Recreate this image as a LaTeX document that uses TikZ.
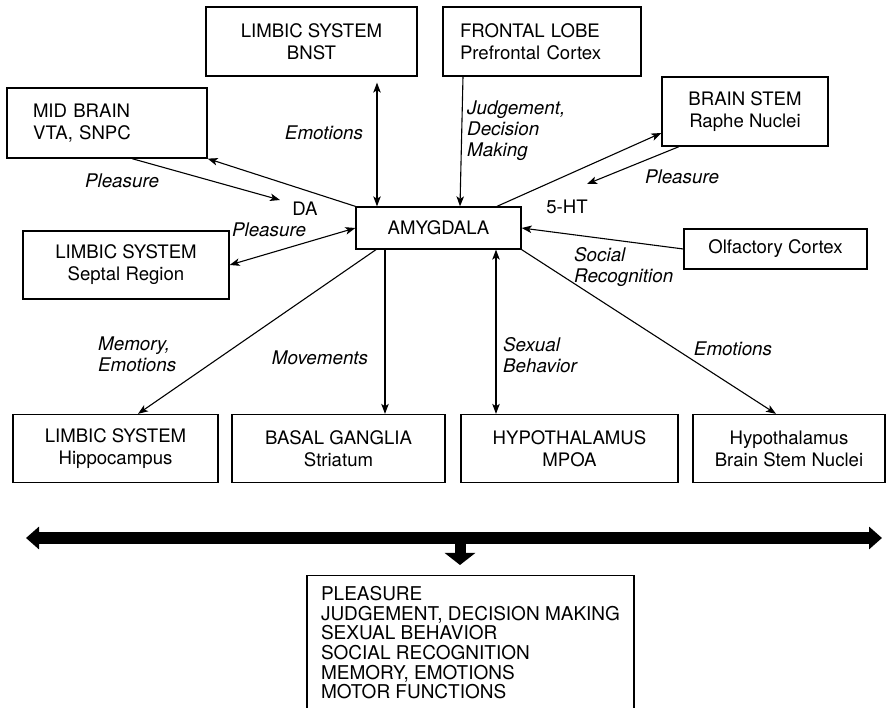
\documentclass[tikz,border=0pt]{standalone}
\usepackage{fontspec}
\setmainfont{TeX Gyre Heros}
\usetikzlibrary{arrows.meta}

\begin{document}
\begin{tikzpicture}[x=1pt,y=-1pt,
  >={Stealth[length=10pt,width=7.5pt,inset=2.5pt]},
  every node/.style={font=\fontsize{18.6}{22}\selectfont},
  box/.style={draw,line width=1.3pt,align=center,inner sep=0pt},
  lbl/.style={font=\fontsize{18.8}{21}\selectfont\itshape,inner sep=0pt,align=left},
  link/.style={line width=1.1pt}]
\useasboundingbox (0,0) rectangle (887,708);

% areas around the amygdala
\node[box,minimum width=211pt,minimum height=69pt] (bnst) at (311.5,41.5) {LIMBIC SYSTEM\\BNST};
\node[box,minimum height=69pt,align=left,text width=164pt,inner xsep=17pt] (front) at (542,41.5) {FRONTAL LOBE\\Prefrontal Cortex};
\node[box,minimum height=70pt,align=left,text width=148pt,inner xsep=26pt] (mid) at (107,123) {MID BRAIN\\VTA, SNPC};
\node[box,minimum width=166pt,minimum height=69pt] (stem) at (745,111.5) {BRAIN STEM\\Raphe Nuclei};
\node[box,minimum width=165pt,minimum height=42pt] (amy) at (438.5,228) {AMYGDALA};
\node[box,minimum width=206pt,minimum height=68pt] (sep) at (126,265) {LIMBIC SYSTEM\\Septal Region};
\node[box,minimum width=183pt,minimum height=40pt] (olf) at (775.5,249) {Olfactory Cortex};

% lower row
\node[box,minimum width=205pt,minimum height=68pt] (hip) at (115.5,448.5) {LIMBIC SYSTEM\\Hippocampus};
\node[box,minimum width=213pt,minimum height=68pt] (bas) at (338.5,448.5) {BASAL GANGLIA\\Striatum};
\node[box,minimum width=217pt,minimum height=68pt] (mpoa) at (569.5,448.5) {HYPOTHALAMUS\\MPOA};
\node[box,minimum width=192pt,minimum height=68pt] (hbsn) at (789,448.5) {Hypothalamus\\Brain Stem Nuclei};

% summary
\node[box,anchor=north,align=left,minimum width=327pt,inner ysep=10.5pt,text depth=40pt,
  font=\fontsize{19}{19.7}\selectfont] (sum) at (470.5,575)
  {PLEASURE\\JUDGEMENT, DECISION MAKING\\SEXUAL BEHAVIOR\\SOCIAL RECOGNITION\\MEMORY, EMOTIONS\\MOTOR FUNCTIONS};

% connections
\draw[link,<->,shorten <=6pt] ([xshift=65.5pt]bnst.south) -- ([xshift=65.5pt]bnst.south |- amy.north);
\draw[link,->] ([xshift=-79pt]front.south) -- ([xshift=21.5pt]amy.north);
\draw[link,->] (amy.north west) -- (mid.south east);
\coordinate (da tip) at (280,200);
\draw[link,->] ([xshift=25pt]mid.south) -- (da tip);
\draw[link,<->] (sep.east) -- (amy.west);
\draw[link,->] ([xshift=58.5pt]amy.north) -- ([yshift=-21.5pt]stem.west);
\coordinate (ht tip) at (587,184);
\draw[link,->] ([xshift=-66pt]stem.south) -- (ht tip);
\draw[link,->] (olf.west) -- (amy.east);
\draw[link,->] ([xshift=-62.5pt]amy.south) -- ([xshift=22.5pt]hip.north);
\draw[link,->] ([xshift=-53.5pt]amy.south) -- ([xshift=-53.5pt]amy.south |- bas.north);
\draw[link,<->] ([xshift=57.5pt]amy.south) -- ([xshift=57.5pt]amy.south |- mpoa.north);
\draw[link,->] (amy.south east) -- ([xshift=-13pt]hbsn.north);

% labels
\node[lbl] (emo top) at (324,133) {Emotions};
\node[lbl,anchor=north west] (judge) at (467,101) {Judgement,\\Decision\\Making};
\node[lbl] (pl mid) at (122,181) {Pleasure};
\node (da) at (305,208.5) {DA};
\node[lbl] (pl sep) at (269,230) {Pleasure};
\node[lbl] (pl stem) at (682,177) {Pleasure};
\node (ht) at (567,207) {5-HT};
\node[lbl,anchor=north west] (soc) at (574,247) {Social\\Recognition};
\node[lbl,anchor=north west] (mem) at (98,337) {Memory,\\Emotions};
\node[lbl] (mov) at (320,358) {Movements};
\node[lbl,anchor=north west] (sex) at (503,337) {Sexual\\Behavior};
\node[lbl] (emo low) at (733,349) {Emotions};

% broad outcome arrow
\coordinate (bar l) at (26,538);
\coordinate (bar r) at (882,538);
\coordinate (bar m) at (460,538);
\draw[line width=12pt,{Triangle[length=13pt,width=22pt]}-{Triangle[length=13pt,width=22pt]}] (bar l) -- (bar r);
\draw[line width=11pt,-{Triangle[length=12pt,width=30pt]},shorten >=10pt] (bar m) -- (bar m |- sum.north);
\end{tikzpicture}
\end{document}
